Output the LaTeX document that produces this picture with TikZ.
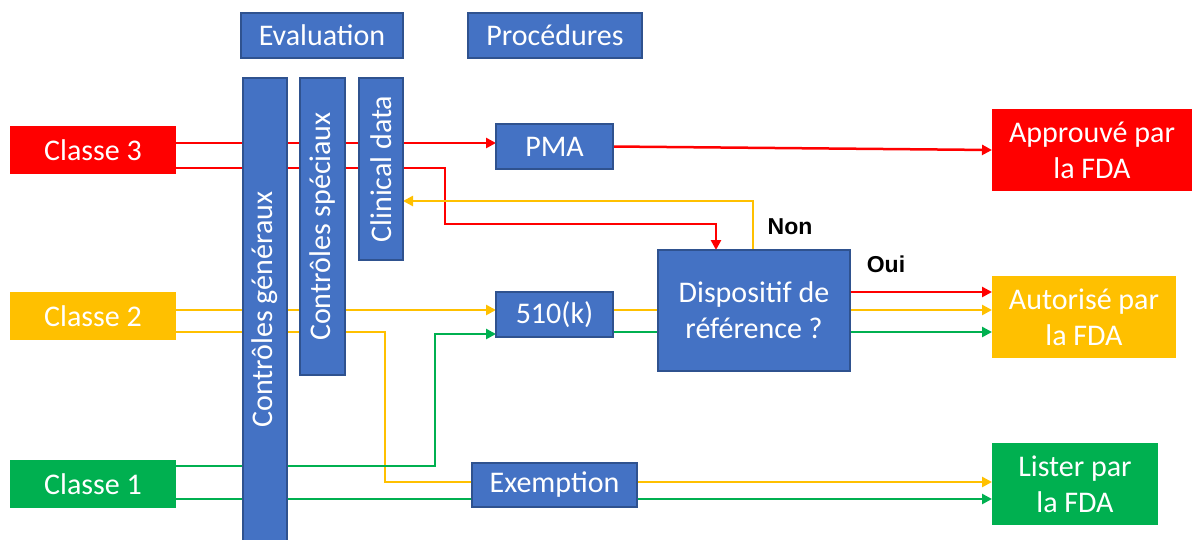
\documentclass[tikz,border=0pt]{standalone}
\usepackage{fontspec}
\setmainfont{Carlito}
\newfontfamily\lblfont{Liberation Sans}
\usetikzlibrary{positioning}
\usetikzlibrary{arrows.meta}
\usetikzlibrary{calc}
\usetikzlibrary{backgrounds}
\definecolor{myred}{HTML}{FF0000}
\definecolor{myyellow}{HTML}{FFC000}
\definecolor{mygreen}{HTML}{00B050}
\definecolor{myblue}{HTML}{4472C4}
\definecolor{myblueborder}{HTML}{2F528F}
\tikzstyle{mybox}=[fill=#1,text=white,inner sep=0pt,outer sep=0pt,align=center,
                   font=\fontsize{30}{36}\selectfont]
\tikzstyle{mybluebox}=[mybox=myblue,draw=myblueborder,line width=1.2]
\tikzstyle{myarrow}=[-{Triangle[length=10pt,width=10pt]},#1,line width=2.5]
\tikzstyle{myline}=[#1,line width=2.5]
\tikzstyle{mylabel}=[inner sep=0pt,font=\lblfont\bfseries\fontsize{23}{26}\selectfont]

\begin{document}
\begin{tikzpicture}[x=1pt,y=-1pt]
  \useasboundingbox (0,0) rectangle (1195,539);
  \def\k{168} % vertical space between procedure rows

  % CLASSES
  \node[mybox=myred,minimum width=166pt,minimum height=48pt] (c3) at (93,150) {Classe 3};
  \node[mybox=myyellow,minimum width=166pt,minimum height=48pt] (c2) at (93,316) {Classe 2};
  \node[mybox=mygreen,minimum width=166pt,minimum height=48pt] (c1) at (93,484) {Classe 1};

  % HEADERS
  \node[mybluebox,minimum width=162pt,minimum height=45pt] (eval) at (322,35.5) {Evaluation};
  \node[mybluebox,minimum width=174pt,minimum height=45pt] (proc) at (555,35.5) {Procédures};

  % evaluation bars
  \node[mybluebox,rotate=90,minimum width=463pt,minimum height=44pt] (gen) at (265,309.5) {Contrôles généraux};
  \node[mybluebox,rotate=90,minimum width=297pt,minimum height=45pt] (spec) at (322.5,226.5) {Contrôles spéciaux};
  \node[mybluebox,rotate=90,minimum width=182pt,minimum height=44pt] (clin) at (381,169) {Clinical data};

  % procedures
  \node[mybluebox,minimum width=117pt,minimum height=45pt] (pma) at (554.5,146.5) {PMA};
  \path (pma)++(0,\k) node[mybluebox,minimum width=117pt,minimum height=45pt] (k510) {510(k)};
  \path (k510)++(0,170.5) node[mybluebox,minimum width=165pt,minimum height=44pt] (exem) {Exemption};
  \node[mybluebox,minimum width=192pt,minimum height=121pt] (ref) at (754,310.5) {Dispositif de\\référence ?};

  % RESULTS
  \node[mybox=myred,minimum width=200pt,minimum height=82pt] (appr) at (1092,150) {Approuvé par\\la FDA};
  \node[mybox=myyellow,minimum width=184pt,minimum height=82pt] (auto) at (1084,317) {Autorisé par\\la FDA};
  \node[mybox=mygreen,minimum width=166pt,minimum height=82pt] (list) at (1075,484) {Lister par\\la FDA};

  % LABELS
  \node[mylabel] (non) at (790,227) {Non};
  \node[mylabel] (oui) at (886,264) {Oui};

  % ARROWS
  \begin{pgfonlayer}{background}
    % classe 3
    \draw[myarrow=myred] ($(c3.east)+(0,-7)$) coordinate (c3a) -- (c3a -| pma.west);
    \draw[myarrow=myred] ($(c3.east)+(0,18)$) -| (445,224) -| ($(ref.north)+(-38,0)$);
    \draw[myarrow=myred] (pma.east) -- (appr.west);
    \draw[myarrow=myred] ($(ref.east)+(0,-18.5)$) coordinate (oui1) -- (oui1 -| auto.west);
    % classe 2
    \draw[myarrow=myyellow] ($(c2.east)+(0,-6)$) coordinate (c2a) -- (c2a -| k510.west);
    \coordinate (exin) at ($(exem.west)+(0,-3)$);
    \draw[myline=myyellow] ($(c2.east)+(0,16)$) -| ($(exin)+(-87,0)$) -- (exin);
    \draw[myarrow=myyellow] ($(exem.east)+(0,-3)$) coordinate (exout) -- (exout -| list.west);
    \draw[myarrow=myyellow] ($(k510.east)+(0,-4.5)$) coordinate (k5a) -- (k5a -| auto.west);
    \draw[myarrow=myyellow] ($(ref.north)+(-1,0)$) |- ($(clin.south)+(0,32)$);
    % classe 1
    \draw[myarrow=mygreen] ($(c1.east)+(0,-18)$) -| ($(k510.west)+(-61,19.5)$) -- ($(k510.west)+(0,19.5)$);
    \draw[myarrow=mygreen] ($(k510.east)+(0,17.5)$) coordinate (k5b) -- (k5b -| auto.west);
    \draw[myarrow=mygreen] ($(c1.east)+(0,15)$) coordinate (c1b) -- (c1b -| list.west);
  \end{pgfonlayer}

\end{tikzpicture}
\end{document}
